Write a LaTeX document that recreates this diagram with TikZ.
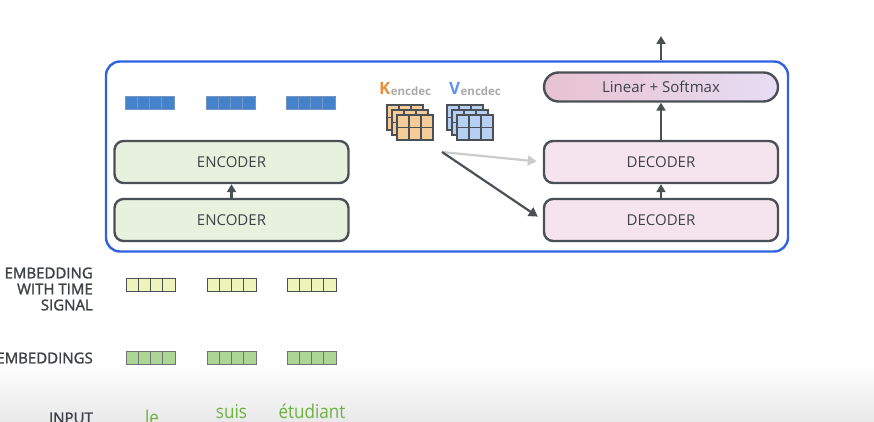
\documentclass[tikz,border=0pt]{standalone}
\usepackage{fontspec}
\setmainfont{Open Sans}
\newfontfamily\semib[FakeBold=1.6]{Open Sans}
\usetikzlibrary{arrows.meta}
\definecolor{framec}{HTML}{2F62E0}
\definecolor{boxline}{HTML}{4B5056}
\definecolor{encfill}{HTML}{E7F1DD}
\definecolor{decfill}{HTML}{F5E4EE}
\definecolor{linl}{HTML}{E8C2D0}
\definecolor{linr}{HTML}{E7DDF4}
\definecolor{txt}{HTML}{3E4247}
\definecolor{bluev}{HTML}{4482CC}
\definecolor{bluevl}{HTML}{3A6CA8}
\definecolor{yelv}{HTML}{EEF5BA}
\definecolor{grnv}{HTML}{ABD693}
\definecolor{kfill}{HTML}{F5CB98}
\definecolor{vfill}{HTML}{B6D0F4}
\definecolor{korange}{HTML}{E8903A}
\definecolor{vblue}{HTML}{5E93F0}
\definecolor{subgray}{HTML}{A9A9A9}
\definecolor{wordg}{HTML}{6DB140}
\definecolor{lightarr}{HTML}{CBCBCB}
\definecolor{bggray}{HTML}{E9E9E9}
\newcommand\embv[3]{%
  \draw[#3] (#1,#2) rectangle ++(49,13);
  \foreach \k in {1,2,3}{\draw[#3] (#1+12.25*\k,#2) -- ++(0,13);}
}
\newcommand\mlayer[3]{%
  \draw[mline,fill=#3] (#1,#2) rectangle ++(36,25);
  \draw[mline] (#1+12,#2) -- ++(0,25) (#1+24,#2) -- ++(0,25) (#1,#2+12.5) -- ++(36,0);
}
\newcommand\mstack[3]{%
  \mlayer{#1}{#2}{#3}\mlayer{#1+5}{#2+5}{#3}\mlayer{#1+10}{#2+10}{#3}%
}
\begin{document}
\begin{tikzpicture}[x=1pt,y=-1pt,
  box/.style={draw=boxline,line width=2.4pt,rounded corners=9pt,minimum width=234pt,minimum height=42pt,
    text=txt,font=\fontsize{15}{17}\selectfont},
  enc/.style={box,fill=encfill},
  dec/.style={box,fill=decfill},
  arr/.style={draw=boxline,line width=2.4pt,-{Triangle[length=8pt,width=9pt]}},
  bvec/.style={draw=bluevl!70!white,line width=0.8pt,fill=bluev},
  yvec/.style={draw=boxline,line width=0.7pt,fill=yelv},
  gvec/.style={draw=boxline!80,line width=0.7pt,fill=grnv},
  mline/.style={draw=boxline,line width=1.1pt},
  lbl/.style={text=txt,font=\semib\fontsize{15}{16}\selectfont,align=right,anchor=east,inner sep=0pt},
  word/.style={text=wordg,font=\fontsize{19}{20}\selectfont,anchor=base,inner sep=0pt,xscale=0.9},
]
\useasboundingbox (0,0) rectangle (874,422);
\shade[top color=white,bottom color=bggray] (0,362) rectangle (874,422);

% frame
\node[draw=framec,line width=2.4pt,rounded corners=14pt,minimum width=682pt,minimum height=190pt] (frame) at (447,156.5) {};

% encoders
\node[enc] (enc2) at (231.5,162) {ENCODER};
\node[enc] (enc1) at (231.5,220) {ENCODER};
\draw[arr] (enc1.north) -- (enc2.south);

% decoders
\node[dec] (dec2) at (661,162) {DECODER};
\node[dec] (dec1) at (661,220) {DECODER};
\node[draw=boxline,line width=2.4pt,rounded corners=14.5pt,minimum width=234pt,minimum height=29pt,
  left color=linl,right color=linr,text=txt,font=\fontsize{15}{17}\selectfont] (lin) at (661,87) {Linear + Softmax};
\draw[arr] (dec1.north) -- (dec2.south);
\draw[arr] (dec2.north) -- (lin.south);
\coordinate (out) at (661,36);
\draw[arr] (lin.north |- frame.north) -- (out);

% encoder output vectors
\embv{125}{96}{bvec}
\embv{206}{96}{bvec}
\embv{286}{96}{bvec}

% K and V
\node[anchor=base west,inner sep=0pt,text=korange,font=\bfseries\fontsize{17}{17}\selectfont] (klab) at (379,95) {K};
\node[anchor=base west,inner sep=0pt,text=subgray,font=\bfseries\fontsize{11.5}{12}\selectfont] (ksub) at ([yshift=-1pt]klab.base east) {encdec};
\node[anchor=base west,inner sep=0pt,text=vblue,font=\bfseries\fontsize{17}{17}\selectfont] (vlab) at (449,95) {V};
\node[anchor=base west,inner sep=0pt,text=subgray,font=\bfseries\fontsize{11.5}{12}\selectfont] (vsub) at ([yshift=-1pt]vlab.base east) {encdec};
\mstack{387}{105}{kfill}
\mstack{447}{105}{vfill}

\coordinate (kv) at (442,152);
\draw[draw=lightarr,line width=2.2pt,-{Triangle[length=9pt,width=10pt]},shorten >=6pt] (kv) -- (dec2.west);
\draw[arr,line width=2.2pt,-{Triangle[length=9pt,width=10pt]},shorten >=6pt] (kv) -- (dec1.west);

% left labels
\node[lbl] (lts) at (93,289) {EMBEDDING\\WITH TIME\\SIGNAL};
\node[lbl] (lemb) at (93,358) {EMBEDDINGS};
\node[lbl] (linp) at (93,418) {INPUT};

\embv{126}{278}{yvec}
\embv{207}{278}{yvec}
\embv{287}{278}{yvec}
\embv{126}{351}{gvec}
\embv{207}{351}{gvec}
\embv{287}{351}{gvec}

\node[word] (w1) at (152,424) {le};
\node[word] (w2) at (231.5,418) {suis};
\node[word] (w3) at (312,418) {étudiant};
\end{tikzpicture}
\end{document}
